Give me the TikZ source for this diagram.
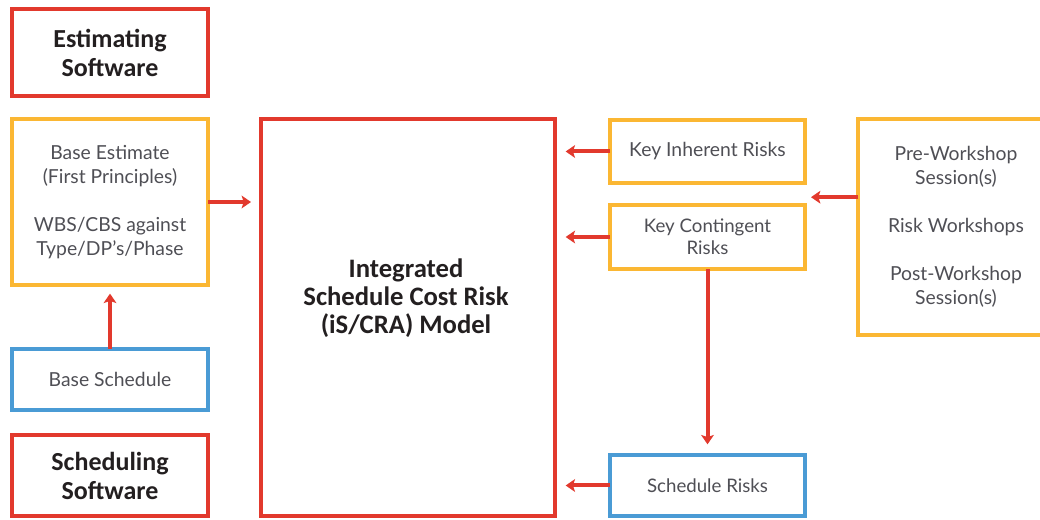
\documentclass[tikz,border=0pt]{standalone}
\usepackage{fontspec}
\setmainfont{Lato}
\newfontfamily\titlefont{Carlito}
\usetikzlibrary{arrows.meta,calc}
\definecolor{cred}{HTML}{E2392D}
\definecolor{cyel}{HTML}{FBB733}
\definecolor{cblue}{HTML}{4A9BD5}
\definecolor{ctext}{HTML}{4F4F55}
\definecolor{ctitle}{HTML}{231F20}
\tikzset{
  box/.style={draw, line width=3pt, inner sep=0pt, outer sep=0pt, align=center,
    text=ctext, font=\fontsize{14.5pt}{18pt}\selectfont},
  redbox/.style={box, draw=cred},
  yelbox/.style={box, draw=cyel},
  bluebox/.style={box, draw=cblue},
  titletext/.style={font=\titlefont\bfseries\fontsize{19.5pt}{21.75pt}\selectfont, text=ctitle},
  arr/.style={draw=cred, line width=3pt, -{Stealth[length=7pt,width=9.5pt,inset=1.5pt]}}
}
\begin{document}
\begin{tikzpicture}[x=0.75pt,y=-0.75pt]
\useasboundingbox (0,0) rectangle (1040,520);
\clip (0,0) rectangle (1040,520);
\fill[white] (0,0) rectangle (1040,520);
% left column
\node[redbox, titletext, minimum width=196*0.75pt, minimum height=87*0.75pt] (est) at (110,52.5) {Estimating\\Software};
\node[yelbox, minimum width=196*0.75pt, minimum height=166*0.75pt] (base) at (110,202) {Base Estimate\\(First Principles)\\[18pt]WBS/CBS against\\Type/DP's/Phase};
\node[bluebox, minimum width=196*0.75pt, minimum height=61*0.75pt] (bsched) at (110,379.5) {Base Schedule};
\node[redbox, titletext, minimum width=196*0.75pt, minimum height=81*0.75pt] (ssw) at (110,475.5) {Scheduling\\Software};
% central model
\node[redbox, minimum width=294*0.75pt, minimum height=397*0.75pt] (model) at (408,317.5) {};
\node[titletext, align=center, font=\titlefont\bfseries\fontsize{20pt}{21pt}\selectfont] (modeltxt) at (406,298) {Integrated\\Schedule Cost Risk\\(iS/CRA) Model};
% right column
\node[yelbox, minimum width=195*0.75pt, minimum height=63*0.75pt] (kir) at (707.5,151.5) {Key Inherent Risks};
\node[yelbox, minimum width=195*0.75pt, minimum height=64*0.75pt, font=\fontsize{14pt}{16.5pt}\selectfont] (kcr) at (707.5,237) {Key Contingent\\Risks};
\node[bluebox, minimum width=195*0.75pt, minimum height=61*0.75pt, font=\fontsize{14pt}{16.5pt}\selectfont] (sr) at (707.5,485.5) {Schedule Risks};
\node[yelbox, minimum width=196*0.75pt, minimum height=216*0.75pt] (ws) at (956,227) {Pre-Workshop\\Session(s)\\[18pt]Risk Workshops\\[18pt]Post-Workshop\\Session(s)};
\coordinate (wsmid) at ($(ws.north west)!0.362!(ws.south west)$);
% connectors
\draw[arr, shorten >=7.5pt] (base.east) -- (base.east -| model.west);
\draw[arr, shorten >=6.5pt] (bsched.north) -- (base.south);
\draw[arr, shorten >=8pt] (kir.west) -- (kir.west -| model.east);
\draw[arr, shorten >=8pt] (kcr.west) -- (kcr.west -| model.east);
\draw[arr, shorten >=8pt] (sr.west) -- (sr.west -| model.east);
\draw[arr, shorten >=4.5pt] (wsmid) -- (wsmid -| kir.east);
\draw[arr, shorten >=8pt] (kcr.south) -- (sr.north);
\end{tikzpicture}
\end{document}
